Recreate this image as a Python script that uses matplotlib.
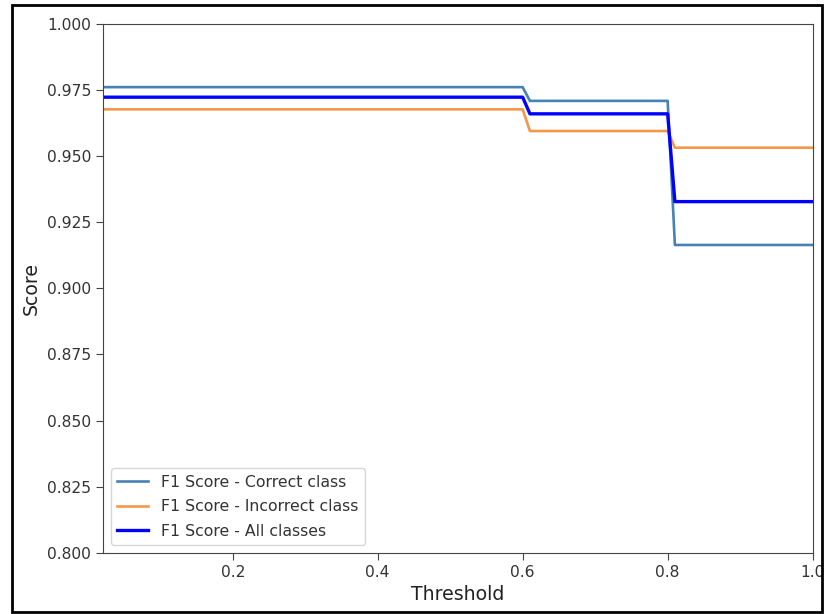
import matplotlib
matplotlib.use("Agg")
import matplotlib.pyplot as plt
from matplotlib.patches import Rectangle

# step curves: F1 scores against decision threshold
thresholds = [0.02, 0.60, 0.61, 0.80, 0.81, 1.00]
f1_correct = [0.9761, 0.9761, 0.9709, 0.9709, 0.9164, 0.9164]
f1_incorrect = [0.9677, 0.9677, 0.9595, 0.9595, 0.9532, 0.9532]
f1_all = [0.9723, 0.9723, 0.9660, 0.9660, 0.9328, 0.9328]

txt = "#333333"
plt.rcParams["text.color"] = txt
plt.rcParams["xtick.labelcolor"] = txt
plt.rcParams["ytick.labelcolor"] = txt
plt.rcParams["axes.labelcolor"] = "#222222"

fig = plt.figure(figsize=(8.25, 6.14), dpi=100)
ax = fig.add_axes([0.1248, 0.0998, 0.8602, 0.8612])

ax.plot(thresholds, f1_correct, color="steelblue", lw=1.9, label="F1 Score - Correct class")
ax.plot(thresholds, f1_incorrect, color="#f4974a", lw=1.9, label="F1 Score - Incorrect class")
ax.plot(thresholds, f1_all, color="blue", lw=2.4, label="F1 Score - All classes")

ax.set_xlim(0.021, 1.0)
ax.set_ylim(0.8, 1.0)
ax.set_xticks([0.2, 0.4, 0.6, 0.8, 1.0])
ax.set_xticklabels(["0.2", "0.4", "0.6", "0.8", "1.0"])
ax.tick_params(labelsize=11.2, length=5, color="#444444")
for s in ax.spines.values():
    s.set_color("#444444")
ax.set_xlabel("Threshold", fontsize=13.6)
ax.set_ylabel("Score", fontsize=13.6)
ax.legend(loc="lower left", fontsize=11.3, labelspacing=0.6)

# screenshot frame around the figure
fig.patches.append(Rectangle((12 / 825, 2 / 614), 810 / 825, 607 / 614,
                             transform=fig.transFigure, fill=False,
                             edgecolor="black", lw=2))

fig.savefig("out.png", dpi=100)
